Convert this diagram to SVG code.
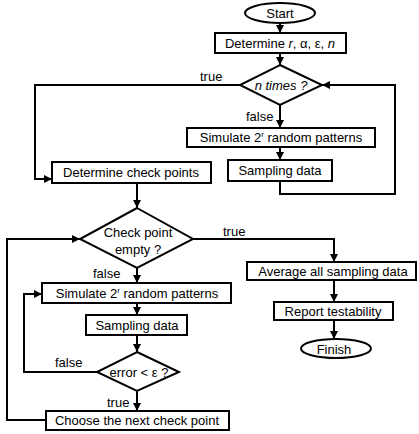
<svg xmlns="http://www.w3.org/2000/svg" width="419" height="434" viewBox="0 0 419 434">
<style>
.s{fill:#fff;stroke:#000;stroke-width:2}
.t{font-family:"Liberation Sans",Arial,sans-serif;font-size:13px;fill:#000;text-anchor:middle}
.l{font-family:"Liberation Sans",Arial,sans-serif;font-size:13px;fill:#000}
.c{fill:none;stroke:#000;stroke-width:2}
</style>
<defs>
<marker id="a" markerUnits="userSpaceOnUse" markerWidth="8" markerHeight="8" refX="8" refY="4" orient="auto">
<path d="M0,0 L8,4 L0,8 z" fill="#000"/>
</marker>
</defs>
<rect width="419" height="434" fill="#fff"/>
<g id="connectors">
<path class="c" d="M280,23 V33" marker-end="url(#a)"/>
<path class="c" d="M280,53 V65" marker-end="url(#a)"/>
<path class="c" d="M280,105 V128" marker-end="url(#a)"/>
<path class="c" d="M280,147 V160" marker-end="url(#a)"/>
<path class="c" d="M280,181 V194 H395 V85 H322" marker-end="url(#a)"/>
<path class="c" d="M240,85 H35 V179 H52" marker-end="url(#a)"/>
<path class="c" d="M137,183 V208" marker-end="url(#a)"/>
<path class="c" d="M193,239 H334 V262" marker-end="url(#a)"/>
<path class="c" d="M334,280 V302" marker-end="url(#a)"/>
<path class="c" d="M334,320 V339" marker-end="url(#a)"/>
<path class="c" d="M137,268 V283" marker-end="url(#a)"/>
<path class="c" d="M137,303 V315" marker-end="url(#a)"/>
<path class="c" d="M137,335 V352" marker-end="url(#a)"/>
<path class="c" d="M97,372 H24 V294 H42" marker-end="url(#a)"/>
<path class="c" d="M137,391 V411" marker-end="url(#a)"/>
<path class="c" d="M46,420 H7 V239 H80" marker-end="url(#a)"/>
<text class="l" x="200" y="81">true</text>
<text class="l" x="246" y="121">false</text>
<text class="l" x="223" y="236">true</text>
<text class="l" x="93" y="278">false</text>
<text class="l" x="55" y="367">false</text>
<text class="l" x="107" y="407">true</text>
</g>
<g id="start">
<ellipse class="s" cx="280" cy="13" rx="35" ry="10"/>
<text class="t" x="280" y="18">Start</text>
</g>
<g id="determine">
<rect class="s" x="215" y="33" width="131" height="20"/>
<text class="t" x="280" y="48">Determine <tspan font-style="italic">r</tspan>, α, ε, <tspan font-style="italic">n</tspan></text>
</g>
<g id="ntimes">
<polygon class="s" points="280,65 322,85 280,105 240,85"/>
<text class="t" x="281" y="90" font-style="italic">n times ?</text>
</g>
<g id="simulate1">
<rect class="s" x="187" y="128" width="188" height="19"/>
<text class="t" x="281" y="142">Simulate 2<tspan font-size="8" dy="-5">r</tspan><tspan dy="5"> random patterns</tspan></text>
</g>
<g id="sampling1">
<rect class="s" x="228" y="160" width="104" height="21"/>
<text class="t" x="280" y="175">Sampling data</text>
</g>
<g id="checkpoints">
<rect class="s" x="52" y="162" width="159" height="21"/>
<text class="t" x="131" y="177">Determine check points</text>
</g>
<g id="cpempty">
<polygon class="s" points="137,208 193,239 137,268 80,239"/>
<text class="t" x="138" y="237">Check point</text>
<text class="t" x="138" y="254">empty ?</text>
</g>
<g id="average">
<rect class="s" x="247" y="262" width="169" height="18"/>
<text class="t" x="333" y="276">Average all sampling data</text>
</g>
<g id="report">
<rect class="s" x="274" y="302" width="119" height="18"/>
<text class="t" x="333" y="316">Report testability</text>
</g>
<g id="finish">
<ellipse class="s" cx="336" cy="348.5" rx="35" ry="9.5"/>
<text class="t" x="334" y="354">Finish</text>
</g>
<g id="simulate2">
<rect class="s" x="42" y="283" width="189" height="20"/>
<text class="t" x="137" y="298">Simulate 2<tspan font-size="8" dy="-5">r</tspan><tspan dy="5"> random patterns</tspan></text>
</g>
<g id="sampling2">
<rect class="s" x="86" y="315" width="101" height="20"/>
<text class="t" x="137" y="330">Sampling data</text>
</g>
<g id="error">
<polygon class="s" points="137,352 179,372 137,391 97,372"/>
<text class="t" x="139" y="377">error &lt; ε ?</text>
</g>
<g id="choose">
<rect class="s" x="46" y="411" width="183" height="19"/>
<text class="t" x="137" y="425">Choose the next check point</text>
</g>
</svg>
